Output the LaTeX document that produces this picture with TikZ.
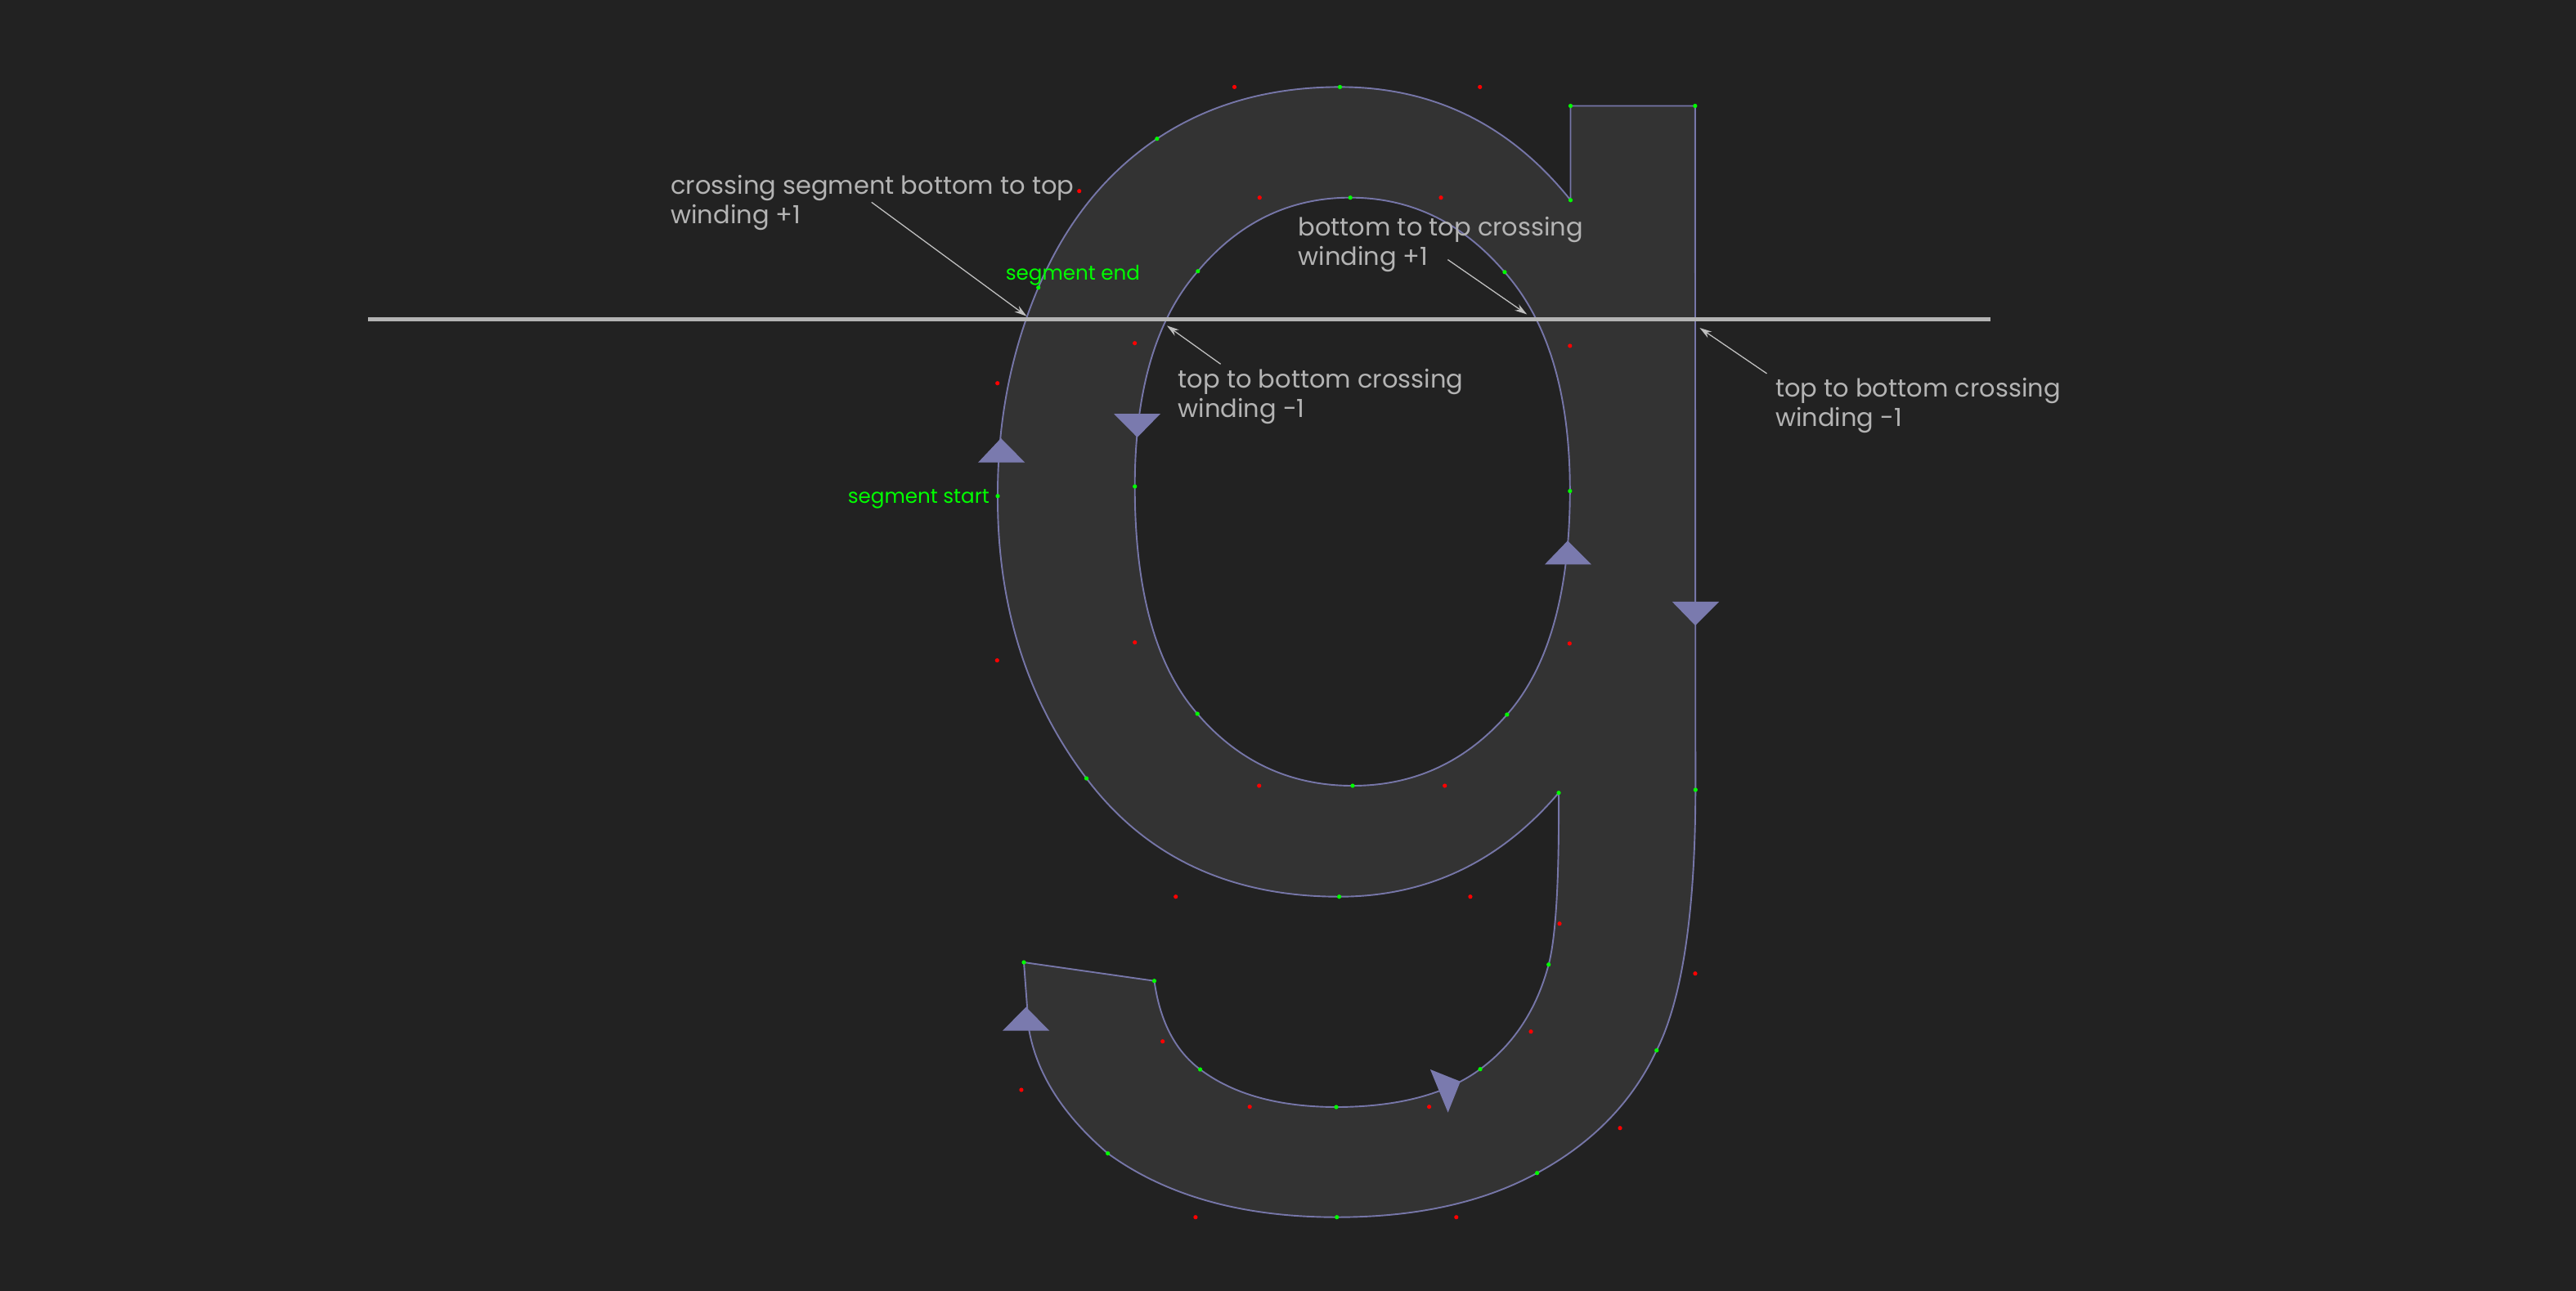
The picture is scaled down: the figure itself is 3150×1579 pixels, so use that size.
\documentclass[tikz,border=0pt]{standalone}
\usepackage{fontspec}
\setmainfont{Poppins}
\usetikzlibrary{calc,arrows.meta}
\definecolor{bgc}{HTML}{222222}
\definecolor{glyphc}{HTML}{333333}
\definecolor{edgec}{HTML}{7676A8}
\definecolor{tric}{HTML}{7A7AAE}
\definecolor{labelc}{HTML}{B4B4B4}
\definecolor{greenc}{HTML}{00FF00}
\definecolor{redc}{HTML}{FF0000}
\def\qc(#1)(#2)(#3){.. controls ($(#1)!0.6667!(#2)$) and ($(#3)!0.6667!(#2)$) .. (#3)}
\tikzset{
  glyphshape/.style={fill=glyphc,draw=edgec,line width=1.9pt,even odd rule,line join=round},
  tri/.style={fill=tric,draw=none},
  note/.style={anchor=base west,inner sep=0pt,text=labelc,align=left,font=\fontsize{30.5}{35.7}\selectfont},
  tag/.style={anchor=base west,inner sep=0pt,text=greenc,font=\fontsize{24.6}{30}\selectfont},
  leader/.style={draw=labelc!85!white,line width=1.3pt,-{Stealth[length=15pt,width=9pt,fill=labelc!85!white]}},
  gdot/.style={fill=greenc,draw=none},
  rdot/.style={fill=redc,draw=none}
}
\begin{document}
\begin{tikzpicture}[x=1pt,y=-1pt]
\useasboundingbox (0,0) rectangle (3150,1579);
\fill[bgc] (0,0) rectangle (3150,1579);
% outer contour on-curve
\coordinate (o1) at (1920.5,244.8);
\coordinate (o2) at (1638.5,106.4);
\coordinate (o3) at (1414.8,169.7);
\coordinate (o4) at (1269.7,351.7);
\coordinate (o5) at (1220,606.7);
\coordinate (o6) at (1328.5,952);
\coordinate (o7) at (1637.6,1096.7);
\coordinate (o8) at (1906,969.7);
\coordinate (o9) at (1893.7,1179.7);
\coordinate (o10) at (1810,1307.7);
\coordinate (o11) at (1634,1354);
\coordinate (o12) at (1467.6,1308);
\coordinate (o13) at (1411.5,1199.7);
\coordinate (o14) at (1252,1177);
\coordinate (o15) at (1258,1258);
\coordinate (o16) at (1354.7,1410.7);
\coordinate (o17) at (1634.7,1488.7);
\coordinate (o18) at (1879.6,1434.7);
\coordinate (o19) at (2025.7,1284.7);
\coordinate (o20) at (2073.3,966);
\coordinate (o21) at (2072.8,129.5);
\coordinate (o22) at (1920.5,129.5);
% outer contour off-curve
\coordinate (c1) at (1809.7,106.4);
\coordinate (c2) at (1509.5,106.4);
\coordinate (c3) at (1319.7,233.7);
\coordinate (c4) at (1219.7,468.7);
\coordinate (c5) at (1219.3,807.7);
\coordinate (c6) at (1437.7,1096.7);
\coordinate (c7) at (1797.9,1096.7);
\coordinate (c8) at (1907,1129.7);
\coordinate (c9) at (1872,1261.7);
\coordinate (c10) at (1747.6,1353.7);
\coordinate (c11) at (1528.2,1353.7);
\coordinate (c12) at (1421.7,1273.7);
\coordinate (c15) at (1248.9,1333);
\coordinate (c15b) at (1272,1340);
\coordinate (c16) at (1461.9,1488.7);
\coordinate (c17) at (1780.8,1488.7);
\coordinate (c18) at (1981,1379.7);
\coordinate (c19) at (2072.9,1190.7);
% inner contour
\coordinate (i1) at (1651.2,241.7);
\coordinate (i2) at (1839.9,332.8);
\coordinate (i3) at (1919.8,600.6);
\coordinate (i4) at (1842.8,874);
\coordinate (i5) at (1654,961);
\coordinate (i6) at (1464.2,873);
\coordinate (i7) at (1387.7,595);
\coordinate (i8) at (1464.8,331.7);
\coordinate (d1) at (1762,241.7);
\coordinate (d2) at (1919.8,423);
\coordinate (d3) at (1919.3,787);
\coordinate (d4) at (1766.7,961);
\coordinate (d5) at (1539.7,961);
\coordinate (d6) at (1387.7,785.7);
\coordinate (d7) at (1387.6,419.7);
\coordinate (d8) at (1540.3,241.7);

\path[glyphshape] (o1) \qc(o1)(c1)(o2) \qc(o2)(c2)(o3) \qc(o3)(c3)(o4) \qc(o4)(c4)(o5)
  \qc(o5)(c5)(o6) \qc(o6)(c6)(o7) \qc(o7)(c7)(o8) \qc(o8)(c8)(o9) \qc(o9)(c9)(o10)
  \qc(o10)(c10)(o11) \qc(o11)(c11)(o12) \qc(o12)(c12)(o13) -- (o14) -- (o15)
  \qc(o15)(c15b)(o16) \qc(o16)(c16)(o17) \qc(o17)(c17)(o18) \qc(o18)(c18)(o19)
  \qc(o19)(c19)(o20) -- (o21) -- (o22) -- cycle
  (i1) \qc(i1)(d1)(i2) \qc(i2)(d2)(i3) \qc(i3)(d3)(i4) \qc(i4)(d4)(i5) \qc(i5)(d5)(i6)
  \qc(i6)(d6)(i7) \qc(i7)(d7)(i8) \qc(i8)(d8)(i1) -- cycle;

% direction triangles
\fill[tri] (1224,536) -- (1196,565.7) -- (1253.3,565.7) -- cycle;
\fill[tri] (1362,506) -- (1419,506) -- (1390.7,535) -- cycle;
\fill[tri] (1917,661.3) -- (1889,690.3) -- (1945.8,690.3) -- cycle;
\fill[tri] (2044.7,735.9) -- (2102.2,735.9) -- (2073,765) -- cycle;
\fill[tri] (1254.6,1231.7) -- (1225.9,1260.7) -- (1283.3,1260.7) -- cycle;
\fill[tri] (1748.9,1308) -- (1785.8,1322.7) -- (1770.6,1360.7) -- cycle;

% scan line
\coordinate (s1) at (450,390.3);
\coordinate (s2) at (2434,390.3);
\draw[labelc,line width=5pt] (s1) -- (s2);

% control points
\foreach \p in {o1,o2,o3,o4,o5,o6,o7,o8,o9,o10,o11,o12,o13,o14,o16,o17,o18,o19,o20,o21,o22,i1,i2,i3,i4,i5,i6,i7,i8}
  \fill[gdot] (\p) circle (2.6pt);
\foreach \p in {c1,c2,c3,c4,c5,c6,c7,c8,c9,c10,c11,c12,c15,c16,c17,c18,c19,d1,d2,d3,d4,d5,d6,d7,d8}
  \fill[rdot] (\p) circle (2.6pt);

% labels (base anchor = baseline of the last line)
\node[note] (n1) at (820.2,273) {crossing segment bottom to top\\winding +1};
\node[note] (n2) at (1587.3,324) {bottom to top crossing\\winding +1};
\node[note] (n3) at (1440.5,510.5) {top to bottom crossing\\winding -1};
\node[note] (n4) at (2171,521.5) {top to bottom crossing\\winding -1};
\node[tag] (t1) at (1229.6,342.3) {segment end};
\node[tag] (t2) at (1036.6,615) {segment start};

% leaders
\coordinate (a1) at (1065.7,247.3);
\coordinate (b1) at (1255.4,386.7);
\coordinate (a2) at (1492.6,445.3);
\coordinate (b2) at (1426.9,398.3);
\coordinate (a3) at (1770.4,317.6);
\coordinate (b3) at (1867.2,384.5);
\coordinate (a4) at (2160.5,456.9);
\coordinate (b4) at (2078.4,401);
\draw[leader] (a1) -- (b1);
\draw[leader] (a2) -- (b2);
\draw[leader] (a3) -- (b3);
\draw[leader] (a4) -- (b4);
\end{tikzpicture}
\end{document}
